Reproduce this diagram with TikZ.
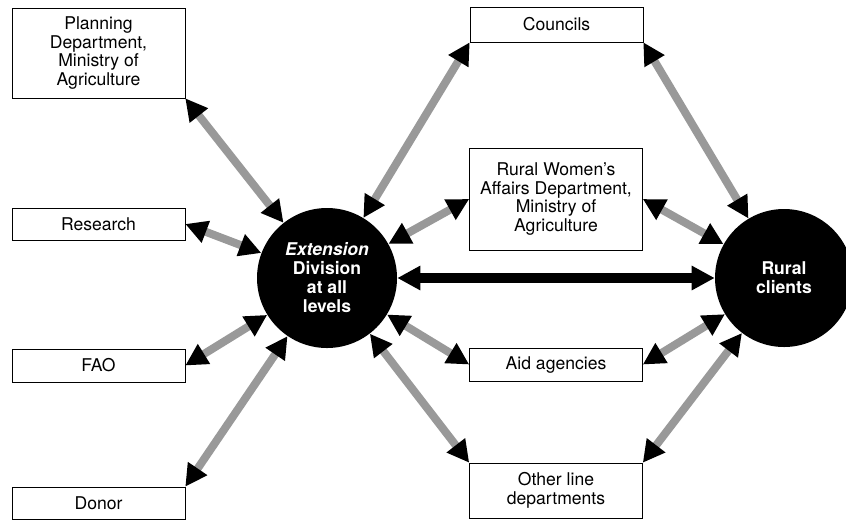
\documentclass[tikz,border=0pt]{standalone}
\usepackage{fontspec}
\setmainfont{TeX Gyre Heros}
\usetikzlibrary{arrows.meta}

\tikzset{
  box/.style={draw,thin,fill=white,align=center,minimum width=43.25mm,inner sep=1mm,
    font=\fontsize{12.5}{13.5}\selectfont},
  hub/.style={circle,fill=black,text=white,align=center,inner sep=0pt,
    font=\fontsize{12.5}{13.5}\selectfont\bfseries},
  link/.style={draw=black!40,line width=2mm,
    {Triangle[length=5.5mm,width=5.5mm,color=black]}-{Triangle[length=5.5mm,width=5.5mm,color=black]}},
  mainlink/.style={draw=black,line width=2.5mm,
    {Triangle[length=5.75mm,width=5.75mm]}-{Triangle[length=5.75mm,width=5.75mm]}}
}

\begin{document}
\begin{tikzpicture}[x=0.25mm,y=-0.25mm]
\useasboundingbox (0,0) rectangle (846,519);

% partners on the left
\node[box,minimum height=22.5mm] (plan) at (98.5,53) {Planning\\Department,\\Ministry of\\Agriculture};
\node[box,minimum height=8mm] (research) at (98.5,224) {Research};
\node[box,minimum height=8.25mm] (fao) at (98.5,365.5) {FAO};
\node[box,minimum height=8mm] (donor) at (98.5,503) {Donor};

% partners in the middle
\node[box,minimum height=8.75mm] (councils) at (556.5,24.5) {Councils};
\node[box,minimum height=25.5mm] (women) at (556,199) {Rural Women's\\Affairs Department,\\Ministry of\\Agriculture};
\node[box,minimum height=8.25mm] (aid) at (556,364.5) {Aid agencies};
\node[box,minimum height=13.75mm] (other) at (556,490.5) {Other line\\departments};

% the two hubs
\node[hub,minimum size=35mm] (ext) at (327,278) {\textit{Extension}\\Division\\at all\\levels};
\node[hub,minimum size=34.5mm] (rural) at (784,278) {Rural\\clients};

% links to the extension division
\draw[link] (plan.south east) -- (ext);
\draw[link] (research.east) -- (ext);
\draw[link] (fao.east) -- (ext);
\draw[link] (donor.north east) -- (ext);
\draw[link] (councils.south west) -- (ext);
\draw[link] (women.west) -- (ext);
\draw[link] (aid.west) -- (ext);
\draw[link] (other.north west) -- (ext);

% links to the rural clients
\draw[link] (councils.south east) -- (rural);
\draw[link] (women.east) -- (rural);
\draw[link] (aid.east) -- (rural);
\draw[link] (other.north east) -- (rural);

\draw[mainlink] (ext) -- (rural);
\end{tikzpicture}
\end{document}
